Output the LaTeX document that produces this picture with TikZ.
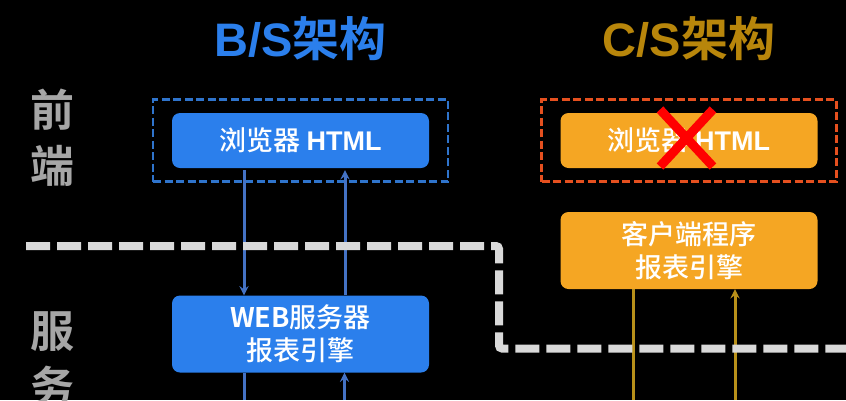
\documentclass[tikz,border=0pt]{standalone}
\usepackage{fontspec}
\usepackage{xcolor}
\setmainfont{Noto Sans CJK SC Medium}[BoldFont=Noto Sans CJK SC Bold]
\newfontfamily\latinfont{Liberation Sans}[BoldFont=Liberation Sans Bold]
\usetikzlibrary{shapes.misc, arrows}
\definecolor{boxblue}{HTML}{2B7FEC}
\definecolor{boxorange}{HTML}{F5A623}
\definecolor{arrowblue}{HTML}{4472C4}
\definecolor{arrowgold}{HTML}{B8901A}
\definecolor{frameblue}{HTML}{2F74CC}
\definecolor{framered}{HTML}{E5501F}
\definecolor{titlegold}{HTML}{B8860B}
\tikzstyle{bluebox} = [rectangle, rounded corners=8pt, minimum width=257pt, minimum height=55pt, inner sep=0pt, align=center, text=white, fill=boxblue, font=\fontsize{27pt}{33pt}\selectfont]
\tikzstyle{orangebox} = [bluebox, fill=boxorange]
\tikzstyle{tallbox} = [minimum height=77pt]
\tikzstyle{blueframe} = [rectangle, minimum width=295pt, minimum height=82pt, draw=frameblue, line width=2.4pt, dash pattern=on 8pt off 3.5pt]
\tikzstyle{redframe} = [blueframe, draw=framered]
\tikzstyle{title} = [font=\fontsize{47pt}{50pt}\selectfont\bfseries]
\tikzstyle{sidelabel} = [font=\fontsize{44pt}{56pt}\selectfont\bfseries, text=black!35!white, align=center, inner sep=0pt]
\tikzstyle{bluearrow} = [draw=arrowblue, line width=3pt,->,>=stealth]
\tikzstyle{goldarrow} = [draw=arrowgold, line width=3pt,->,>=stealth]
\tikzstyle{divider} = [draw=black!15!white, line width=8pt, dash pattern=on 24pt off 7pt, rounded corners=3pt]

\begin{document}
\begin{tikzpicture}[x=1pt, y=1pt, node distance=110pt]

    \useasboundingbox (0,0) rectangle (846,-400);
    \fill [black] (0,0) rectangle (846,-400);
    \clip (0,0) rectangle (846,-400);

    % Nodes
    \node (titlebs) [title, text=boxblue] at (300.5,-39) {{\latinfont B/S}架构};
    \node (titlecs) [title, text=titlegold, right of=titlebs, xshift=278.5pt] {{\latinfont C/S}架构};
    \node (front) [sidelabel] at (52,-138) {前\\端};
    \node (back) [sidelabel] at (52,-359) {服\\务};
    \node (browserb) [bluebox] at (300.5,-140.5) {浏览器 {\latinfont\bfseries HTML}};
    \node (serverb) [bluebox, tallbox, below of=browserb, yshift=-83.5pt] {\textbf{WEB}服务器\\报表引擎};
    \node (framebs) [blueframe] at (browserb) {};
    \node (browserc) [orangebox, right of=browserb, xshift=278.5pt] {浏览器 {\latinfont\bfseries HTML}};
    \node (clientc) [orangebox, tallbox, below of=browserc] {客户端程序\\报表引擎};
    \node (framecs) [redframe] at (browserc) {};
    \node (cross) [cross out, draw=red, line width=9pt, minimum width=44pt, minimum height=48pt, inner sep=0pt] at (686.5,-138) {};

    % Free ends below the picture
    \coordinate (bluedown) at (244,-400);
    \coordinate (blueup) at (344.5,-400);
    \coordinate (golddown) at (633.5,-400);
    \coordinate (goldup) at (735,-400);
    \coordinate (lineleft) at (26,-246);
    \coordinate (linetop) at (499,-246);
    \coordinate (linelow) at (499,-348.5);
    \coordinate (lineright) at (846,-348.5);

    % Arrows
    \draw [bluearrow] ([xshift=-56.5pt, yshift=-2pt]browserb.south) -- ([xshift=-56.5pt]serverb.north);
    \draw [bluearrow] ([xshift=44.5pt]serverb.north) -- ([xshift=44.5pt, yshift=-2pt]browserb.south);
    \draw [bluearrow, -] ([xshift=-56.5pt]serverb.south) -- (bluedown);
    \draw [bluearrow] (blueup) -- ([xshift=44pt]serverb.south);
    \draw [goldarrow, -] ([xshift=-55.5pt]clientc.south) -- (golddown);
    \draw [goldarrow] (goldup) -- ([xshift=46pt]clientc.south);

    % Divider
    \draw [divider] (lineleft) -- (linetop) -- (linelow) -- (lineright);

\end{tikzpicture}
\end{document}
